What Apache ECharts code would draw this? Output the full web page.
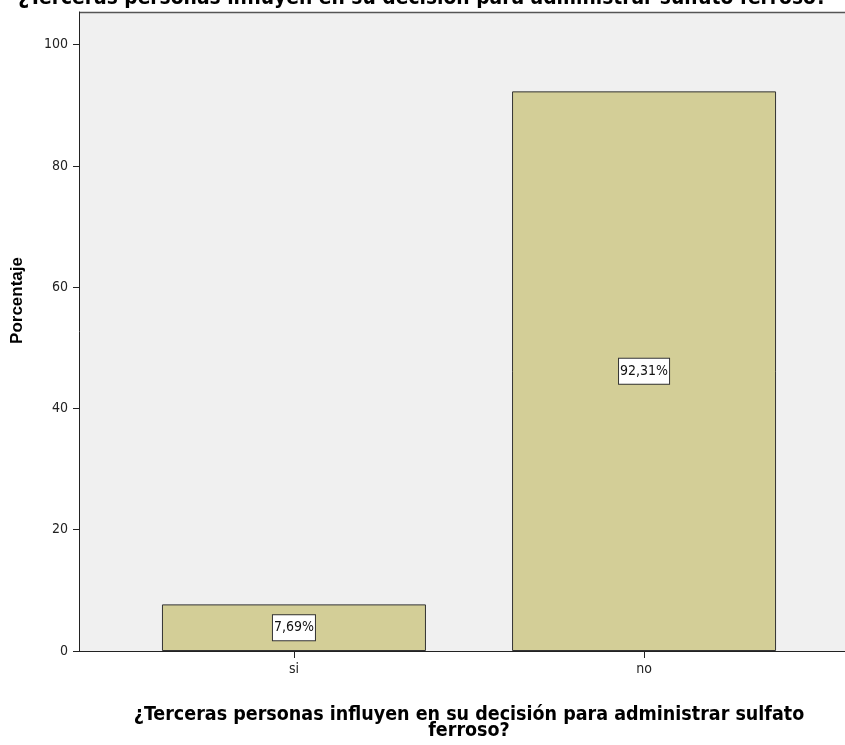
<!DOCTYPE html>
<html><head><meta charset="utf-8">
<script src="https://cdn.jsdelivr.net/npm/echarts@6/dist/echarts.min.js"></script>
<style>html,body{margin:0;padding:0;background:#fff}#c{width:845px;height:745px}</style>
</head><body><div id="c"></div>
<script>
const categories = ['si', 'no'];
const categoryPositions = [1, 2];
const percentages = [7.69, 92.31];
const percentLabels = ['7,69%', '92,31%'];
const yTicks = [0, 20, 40, 60, 80, 100];
const titleText = '¿Terceras personas influyen en su decisión para administrar sulfato ferroso?';
const xName = '¿Terceras personas influyen en su decisión para administrar sulfato\nferroso?';
const yName = 'Porcentaje';

const boldFont = 'DejaVu Sans Condensed, Liberation Sans';
const tickFont = 'DejaVu Sans Condensed, Liberation Sans';
const chart = echarts.init(document.getElementById('c'));
chart.setOption({
  animation: false,
  backgroundColor: '#ffffff',
  title: {
    text: titleText, left: 'center', top: -17,
    textStyle: {fontFamily: boldFont, fontWeight: 'bold', fontSize: 20.8, color: '#000'}
  },
  grid: {left: 79, right: 0, top: 12, bottom: 94, show: true, backgroundColor: '#f0f0f0', borderWidth: 0,
         containLabel: false, outerBoundsMode: 'none'},
  xAxis: {
    type: 'value', min: 0.386, max: 2.574,
    splitLine: {show: false},
    axisLine: {show: true, onZero: false, lineStyle: {color: '#222', width: 1}},
    axisTick: {show: true, length: 7, lineStyle: {color: '#222'}, customValues: categoryPositions},
    axisLabel: {
      customValues: categoryPositions, margin: 11, color: '#222', fontSize: 14, fontFamily: tickFont,
      formatter: v => categories[categoryPositions.indexOf(Math.round(v))] || ''
    },
    name: xName, nameLocation: 'middle', nameGap: 56,
    nameTextStyle: {fontFamily: boldFont, fontWeight: 'bold', fontSize: 19.5, color: '#000', lineHeight: 16, padding: [0, 0, 0, 14]}
  },
  yAxis: {
    type: 'value', min: 0, max: 105.4, interval: 20,
    splitLine: {show: false},
    axisLine: {show: true, lineStyle: {color: '#222', width: 1}},
    axisTick: {show: true, length: 6, lineStyle: {color: '#222'}, customValues: yTicks},
    axisLabel: {customValues: yTicks, margin: 11, color: '#222', fontSize: 14, fontFamily: tickFont},
    name: yName, nameLocation: 'middle', nameGap: 53, nameRotate: 90,
    nameTextStyle: {fontFamily: 'Liberation Sans', fontWeight: 'bold', fontSize: 17, color: '#000', padding: [0, 0, 0, 62]}
  },
  series: [{
    type: 'bar',
    barWidth: 264,
    data: categoryPositions.map((p, i) => [p, percentages[i]]),
    itemStyle: {color: '#d3ce97', borderColor: '#333', borderWidth: 1},
    label: {
      show: true, position: 'inside',
      formatter: p => percentLabels[p.dataIndex],
      color: '#111', fontSize: 14, fontFamily: tickFont,
      backgroundColor: '#fff', borderColor: '#333', borderWidth: 1, padding: [6, 1, 5, 1]
    }
  }],
  graphic: [{
    type: 'line', shape: {x1: 79, y1: 12.5, x2: 845, y2: 12.5},
    style: {stroke: '#555', lineWidth: 1.5}
  }]
});
</script></body></html>
